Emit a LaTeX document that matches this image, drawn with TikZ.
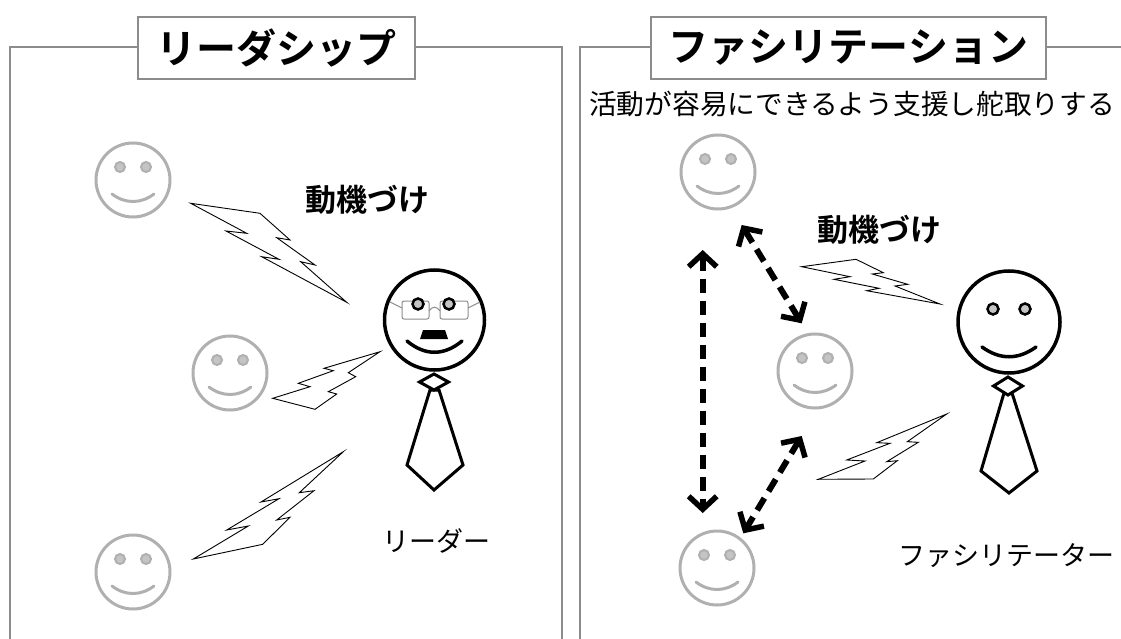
\documentclass[tikz,border=0pt]{standalone}
\usepackage{fontspec}
\setmainfont{Noto Sans CJK JP}[BoldFont={Noto Sans CJK JP Bold}]
\usetikzlibrary{arrows.meta}
\definecolor{framegray}{HTML}{8C8C8C}
\definecolor{facegray}{HTML}{B0B0B0}
\definecolor{eyegray}{HTML}{C4C4C4}
\tikzset{
  frameline/.style={draw=framegray, line width=2pt},
  titlebox/.style={draw=framegray, line width=1.5pt, fill=white, inner sep=0pt,
    font=\bfseries\fontsize{40}{44}\selectfont},
  keyword/.style={font=\bfseries\fontsize{31}{34}\selectfont},
  caption/.style={font=\fontsize{27}{30}\selectfont},
  member/.style={circle, draw=facegray, line width=3pt, minimum size=74pt, inner sep=0pt},
  head/.style={circle, draw=black, line width=3.5pt, minimum size=100pt, inner sep=0pt},
  bolt/.style={draw=black, line width=0.9pt, fill=white, line join=miter},
  tiepart/.style={draw=black, line width=3pt, fill=white, line join=miter},
  barb/.tip={Straight Barb[length=13pt,width=28pt,line width=5.5pt]},
  dasharrow/.style={line width=6pt, dash pattern=on 14pt off 8pt, barb-barb},
  pics/memberface/.style={code={
    \filldraw[draw=facegray, fill=eyegray, line width=2pt] (-13,-13) circle (5);
    \filldraw[draw=facegray, fill=eyegray, line width=2pt] (13,-13) circle (5);
    \draw[facegray, line width=3pt, line cap=round]
      (-21,14) .. controls (-8,24) and (8,24) .. (21,14);
  }},
}
\begin{document}
\begin{tikzpicture}[x=1pt,y=-1pt]
\useasboundingbox (0,0) rectangle (1121,639);

% ---- left panel: leadership ----
\draw[frameline] (10,645) -- (10,47) -- (138,47);
\draw[frameline] (415,47) -- (562,47) -- (562,645);
\node[titlebox, minimum width=277pt, minimum height=62pt] (ltitle) at (276.5,48) {リーダシップ};

\node[member] (l1) at (133,180) {};
\pic at (l1) {memberface};
\node[member] (l2) at (230,373) {};
\pic at (l2) {memberface};
\node[member] (l3) at (133,572) {};
\pic at (l3) {memberface};

\node[keyword] (lmot) at (367,200) {動機づけ};

% lightning towards the members
\draw[bolt] (190.7,203.3) -- (260,213.3) -- (290,240) -- (276.7,237.7) -- (315,265)
  -- (300.7,261.7) -- (346.7,302.3) -- (261.7,256.7) -- (279,259.3) -- (226,231)
  -- (246.7,233.3) -- cycle;
\draw[bolt] (272.7,398.3) -- (310,386.7) -- (298.3,383.3) -- (333.3,370.7) -- (324,368.3)
  -- (380,351.7) -- (348.3,372.7) -- (355.7,376.7) -- (328.3,391.7) -- (336.7,394)
  -- (315,409.3) -- cycle;
\draw[bolt] (193.3,559) -- (262.7,544.3) -- (290,517.3) -- (276.7,520) -- (314,490.7)
  -- (299.3,492.7) -- (343.3,451.7) -- (261,502) -- (279,498.7) -- (226.7,530)
  -- (248.3,526) -- cycle;

% the leader
\draw[tiepart] (430,390) -- (407,465) -- (434,490) -- (463,465) -- (439,390) -- cycle;
\draw[tiepart] (419.5,382) -- (434,374) -- (448.5,382) -- (434,390) -- cycle;
\node[head] (leader) at (434.5,320) {};
\draw[framegray, line width=1pt] (390,302) -- (402,308);
\draw[framegray, line width=1pt] (468,308) -- (480,302);
\draw[framegray, line width=1pt, rounded corners=2pt] (402,301) rectangle (429,319);
\draw[framegray, line width=1pt, rounded corners=2pt] (440,301) rectangle (468,319);
\draw[framegray, line width=1pt] (429,311) .. controls (432,306) and (437,306) .. (440,311);
\filldraw[draw=black, fill=eyegray, line width=2.5pt] (418,304) circle (5.5);
\filldraw[draw=black, fill=eyegray, line width=2.5pt] (449,304) circle (5.5);
\fill[black] (423,330) -- (445,330) -- (448,339) -- (420,339) -- cycle;
\draw[black, line width=3.5pt, line cap=round]
  (407,341) .. controls (425,356) and (444,356) .. (462,341);
\node[caption] (lname) at (436,541) {リーダー};

% ---- right panel: facilitation ----
\draw[frameline] (580,645) -- (580,47) -- (651,47);
\draw[frameline] (1046,47) -- (1125,47);
\node[titlebox, minimum width=395pt, minimum height=62pt] (rtitle) at (848.5,48) {ファシリテーション};
\node[font=\fontsize{27.7}{31}\selectfont, anchor=west, inner sep=0pt] (rsub) at (589,104)
  {活動が容易にできるよう支援し舵取りする};

\node[member] (r1) at (718,172) {};
\pic at (r1) {memberface};
\node[member] (r2) at (815,371) {};
\pic at (r2) {memberface};
\node[member] (r3) at (717,568) {};
\pic at (r3) {memberface};

\node[keyword] (rmot) at (879,230) {動機づけ};

% two-way exchange among the members
\coordinate (v1) at (702.7,250);
\coordinate (v2) at (702.7,513);
\coordinate (d1) at (741.7,225);
\coordinate (d2) at (801.7,323.3);
\coordinate (d3) at (801.7,436);
\coordinate (d4) at (743.3,533.3);
\draw[dasharrow] (v1) -- (v2);
\draw[dasharrow] (d1) -- (d2);
\draw[dasharrow] (d3) -- (d4);

% weaker lightning from the facilitator
\draw[bolt] (801.7,266.7) -- (856,259.3) -- (883.3,272.7) -- (872.3,274) -- (907.7,284.3)
  -- (895,286) -- (940,304) -- (866.7,290.7) -- (879,288.3) -- (834,279.3)
  -- (850,276.7) -- cycle;
\draw[bolt] (818.3,479.3) -- (873.3,479) -- (897.3,460.7) -- (886.7,461.7) -- (918.3,442.3)
  -- (907.3,441.7) -- (946.7,414) -- (876.7,442.7) -- (890,443.3) -- (846.7,460)
  -- (865,461) -- cycle;

% the facilitator
\draw[tiepart] (1004,393) -- (981,471) -- (1009,493) -- (1037,471) -- (1012,393) -- cycle;
\draw[tiepart] (993.5,386) -- (1008,377) -- (1022.5,386) -- (1008,395) -- cycle;
\node[head, minimum size=102pt] (facil) at (1009,322) {};
\filldraw[draw=black, fill=eyegray, line width=2.5pt] (993,309) circle (5.5);
\filldraw[draw=black, fill=eyegray, line width=2.5pt] (1025,309) circle (5.5);
\draw[black, line width=3.5pt, line cap=round]
  (982,347) .. controls (1000,360) and (1018,360) .. (1036,347);
\node[caption] (rname) at (1006,556) {ファシリテーター};
\end{tikzpicture}
\end{document}
